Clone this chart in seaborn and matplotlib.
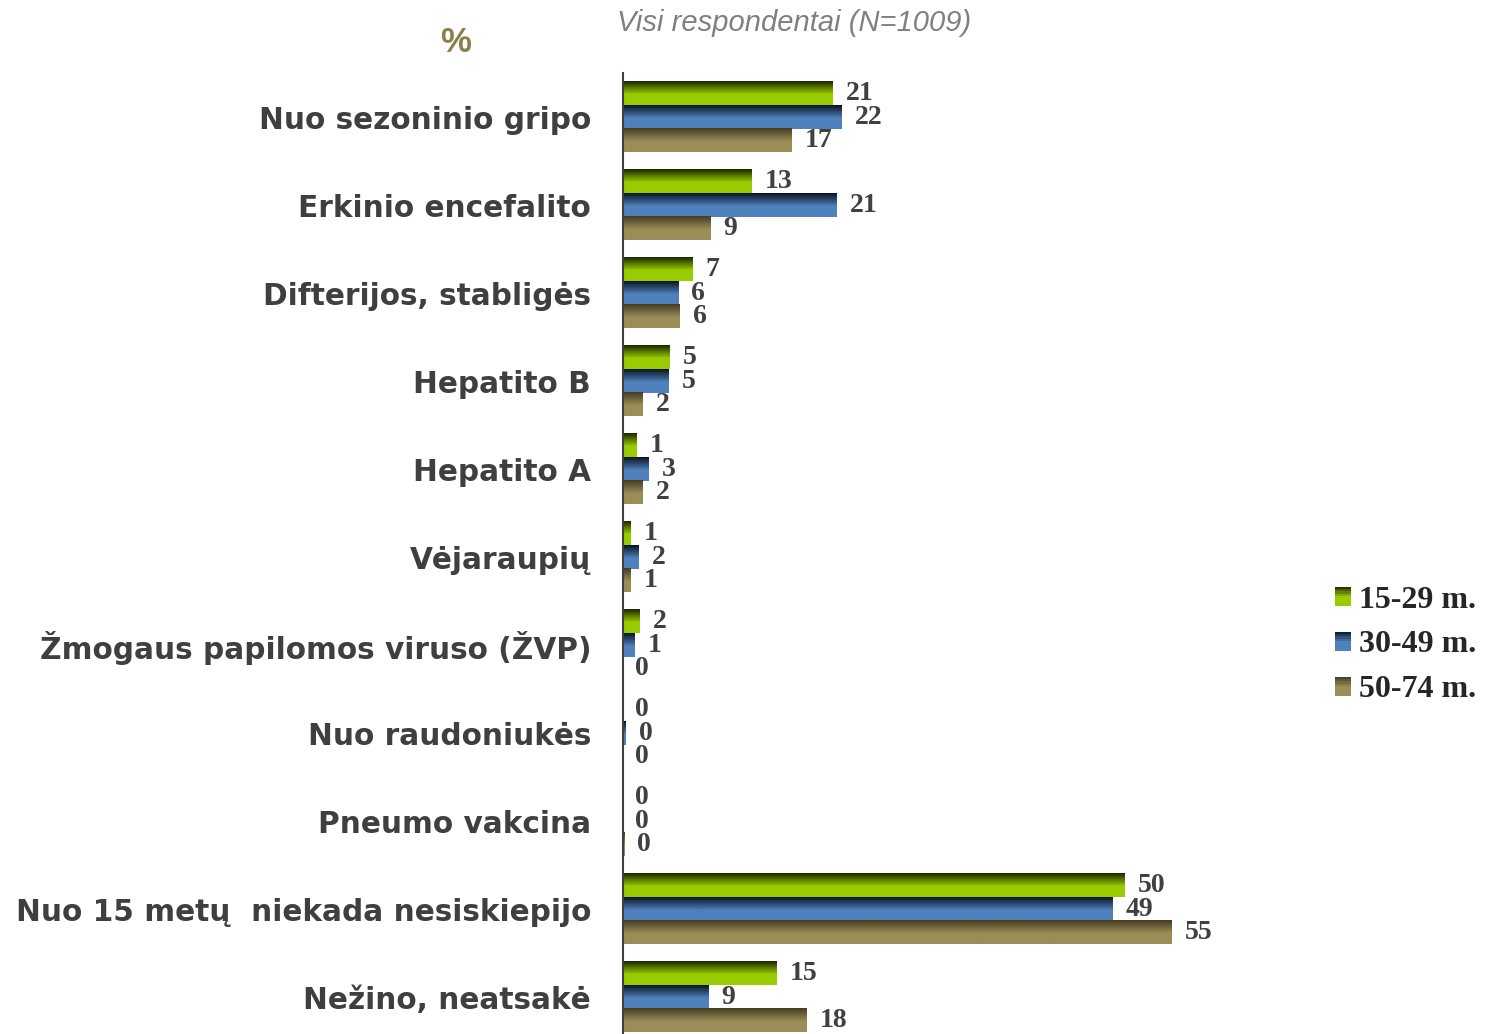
import numpy as np
import pandas as pd
import matplotlib
matplotlib.use("Agg")
import matplotlib.pyplot as plt
import seaborn as sns
from matplotlib.colors import LinearSegmentedColormap
from matplotlib.patches import Rectangle
from matplotlib.legend_handler import HandlerBase

# duomenys (%)
kategorijos = [
    "Nuo sezoninio gripo",
    "Erkinio encefalito",
    "Difterijos, stabligės",
    "Hepatito B",
    "Hepatito A",
    "Vėjaraupių",
    "Žmogaus papilomos viruso (ŽVP)",
    "Nuo raudoniukės",
    "Pneumo vakcina",
    "Nuo 15 metų  niekada nesiskiepijo",
    "Nežino, neatsakė",
]
grupes = ["15-29 m.", "30-49 m.", "50-74 m."]
g15_29 = [21.0, 12.9, 7.0, 4.7, 1.4, 0.8, 1.7, 0.0, 0.0, 50.2, 15.4]
g30_49 = [21.9, 21.4, 5.6, 4.6, 2.6, 1.6, 1.2, 0.3, 0.0, 49.0, 8.6]
g50_74 = [16.9, 8.8, 5.7, 2.0, 2.0, 0.8, 0.0, 0.0, 0.2, 54.9, 18.4]

# spalvos: tamsi viršus -> šviesi apačia
tamsios = ["#1c2600", "#0b1322", "#433c22"]
sviesios = ["#99cc00", "#4f81bd", "#9b8d57"]

df = pd.DataFrame({
    "kategorija": kategorijos * 3,
    "grupe": np.repeat(grupes, len(kategorijos)),
    "reiksme": g15_29 + g30_49 + g50_74,
})

sns.set_style("white")
plt.rcParams["font.family"] = ["Liberation Sans", "DejaVu Sans"]

fig = plt.figure(figsize=(14.85, 10.34), dpi=100)
ax = fig.add_axes([623 / 1485, -0.0068, (1485 - 623) / 1485, 0.9362])

sns.barplot(data=df, x="reiksme", y="kategorija", hue="grupe", orient="h",
            palette=sviesios, saturation=1, width=0.8, legend=False, ax=ax)


def gradientas(i):
    return LinearSegmentedColormap.from_list(
        f"g{i}", [(0, tamsios[i]), (0.55, sviesios[i]), (1, sviesios[i])])


grad = np.linspace(0, 1, 64).reshape(-1, 1)
for i, cont in enumerate(ax.containers):
    cm = gradientas(i)
    for p in cont.patches:
        x, y, w, h = p.get_x(), p.get_y(), p.get_width(), p.get_height()
        p.set_edgecolor("none")
        if w <= 0:
            continue
        ax.imshow(grad, cmap=cm, aspect="auto", origin="upper",
                  extent=(x, x + w, y + h, y), zorder=p.get_zorder() + 0.1)
    ax.bar_label(cont, labels=[f"{v:.0f}" for v in cont.datavalues],
                 padding=9, fontsize=20, fontweight="bold",
                 family="Liberation Serif", color="#404040")

ax.set_xlim(0, 86.2)
ax.set_ylim(len(kategorijos) - 0.5, -0.5)
ax.set_xlabel("")
ax.set_ylabel("")
ax.set_xticks([])
for s in ["top", "right", "bottom"]:
    ax.spines[s].set_visible(False)
ax.spines["left"].set_color("#404040")
ax.spines["left"].set_linewidth(1.5)

ax.set_yticks(range(len(kategorijos)))
ax.set_yticklabels(kategorijos, fontsize=21.3, fontweight="bold",
                   color="#3f3f3f", family="DejaVu Sans")
ax.tick_params(axis="y", which="major", length=0, pad=23)
ax.set_yticks(np.arange(-0.5, len(kategorijos), 1.0), minor=True)
ax.tick_params(axis="y", which="minor", length=9, width=1.5, color="#404040",
               direction="out")


class GradientoRankena(HandlerBase):
    def __init__(self, i):
        super().__init__()
        self.i = i

    def create_artists(self, legend, orig_handle, xdescent, ydescent,
                       width, height, fontsize, trans):
        cm = gradientas(self.i)
        n = 8
        out = []
        for k in range(n):
            r = Rectangle((-xdescent, -ydescent + height * (n - 1 - k) / n),
                          width, height / n, facecolor=cm((k + 0.5) / n),
                          edgecolor="none", transform=trans)
            out.append(r)
        return out


rankenos = [Rectangle((0, 0), 1, 1) for _ in grupes]
fig.legend(rankenos, grupes, loc="center left",
           bbox_to_anchor=(1335 / 1485, 1 - 645 / 1034),
           frameon=False, borderpad=0, borderaxespad=0,
           handlelength=0.5, handleheight=0.55,
           handletextpad=0.25, labelspacing=0.5,
           handler_map={h: GradientoRankena(i) for i, h in enumerate(rankenos)},
           prop={"family": "Liberation Serif", "weight": "bold", "size": 23})

fig.text(794 / 1485, 1 - 23 / 1034, "Visi respondentai (N=1009)",
         ha="center", va="center", style="italic", color="#808080", fontsize=21)
fig.text(456 / 1485, 1 - 42 / 1034, "%", ha="center", va="center",
         color="#8c7f4a", fontsize=25, fontweight="bold")

fig.savefig("out.png", dpi=100)
